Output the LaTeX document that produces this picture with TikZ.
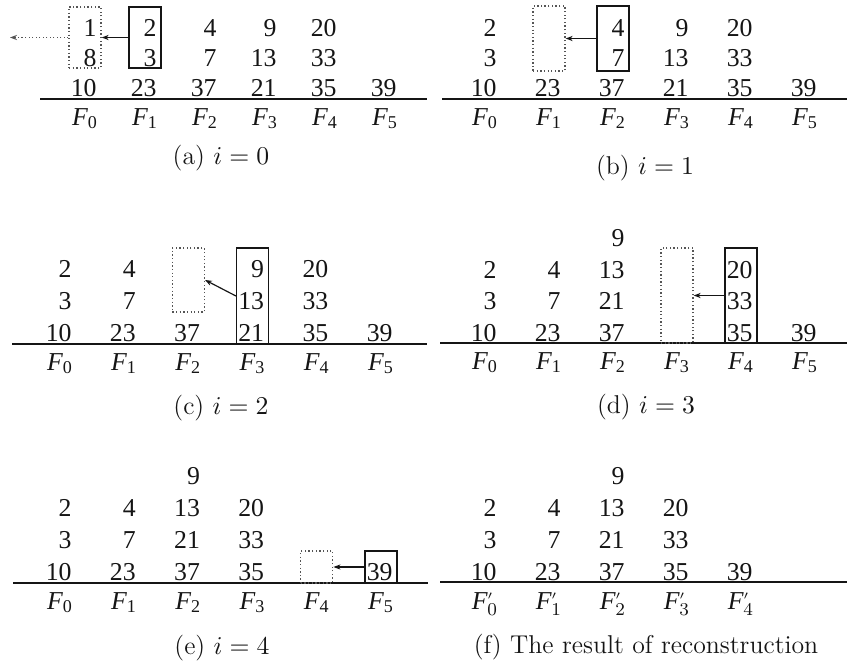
\documentclass[tikz,border=0pt]{standalone}
\usepackage{fontspec}
\usetikzlibrary{arrows.meta}
\newfontfamily\numfont{Liberation Serif}
\definecolor{ink}{HTML}{151515}
\definecolor{dots}{HTML}{555555}
\tikzset{
  num/.style={anchor=base east, inner sep=0pt, font=\numfont\fontsize{11}{13}\selectfont, text=ink},
  flab/.style={anchor=base, inner sep=0pt, font=\numfont\itshape\fontsize{11}{13}\selectfont, text=ink},
  caption/.style={anchor=base, inner sep=0pt, font=\fontsize{11}{13}\selectfont, text=ink},
  rule/.style={draw=ink, line width=0.6pt},
  oldbox/.style={draw=dots, densely dotted, line width=0.55pt, inner sep=0pt, minimum width=0.48cm},
  newbox/.style={draw=ink, line width=0.55pt, inner sep=0pt, minimum width=0.48cm},
  move/.style={draw=ink, line width=0.5pt, -{Stealth[length=3pt,width=2.2pt]}}
}
\newcommand\fsub[1]{F\textsubscript{\upshape #1}}
\newcommand\fprime[1]{F$^{\scriptscriptstyle\prime}_{\mathrm{#1}}$}

\begin{document}
\begin{tikzpicture}[x=0.015cm,y=-0.015cm]
\useasboundingbox (0,0) rectangle (847,664);

\foreach \c/\vals in {0/{10,8,1},1/{23,3,2},2/{37,7,4},3/{21,13,9},4/{35,33,20},5/{39}}
  \foreach \v [count=\r from 0] in \vals
    \node[num] (a\c-\r) at ({97+60*\c},{96-30*\r}) {\v};
\foreach \c in {0,...,5}
  \node[flab] (af\c) at ({85+60*\c},125) {\fsub{\c}};
\draw[rule] (40,99) -- (427,99);
\node[oldbox, minimum height=0.915cm] (a-old) at (85,37.5) {};
\node[newbox, minimum height=0.915cm] (a-new) at (145,37.5) {};
\coordinate (a-out) at (10,37.5);
\draw[move] (a-new.west) -- (a-old.east);
\draw[move, densely dotted, draw=dots] (a-old.west) -- (a-out);
\node[caption] (a-cap) at (221,164) {(a) $i=0$};

\foreach \c/\vals in {0/{10,3,2},1/{23},2/{37,7,4},3/{21,13,9},4/{35,33,20},5/{39}}
  \foreach \v [count=\r from 0] in \vals
    \node[num] (b\c-\r) at ({497+64*\c},{96-30*\r}) {\v};
\foreach \c in {0,...,5}
  \node[flab] (bf\c) at ({485+64*\c},125) {\fsub{\c}};
\draw[rule] (442,99) -- (847,99);
\node[oldbox, minimum height=0.975cm] (b-old) at (549,38.5) {};
\node[newbox, minimum height=0.975cm] (b-new) at (613,38.5) {};
\draw[move] (b-new.west) -- (b-old.east);
\node[caption] (b-cap) at (645,174) {(b) $i=1$};

\foreach \c/\vals in {0/{10,3,2},1/{23,7,4},2/{37},3/{21,13,9},4/{35,33,20},5/{39}}
  \foreach \v [count=\r from 0] in \vals
    \node[num] (c\c-\r) at ({72+64.2*\c},{341.5-32*\r}) {\v};
\foreach \c in {0,...,5}
  \node[flab] (cf\c) at ({60+64.2*\c},370) {\fsub{\c}};
\draw[rule] (12,344) -- (427,344);
\node[oldbox, minimum height=0.96cm] (c-old) at (188.4,280) {};
\node[newbox, minimum height=1.44cm] (c-new) at (252.6,296) {};
\draw[move] (c-new.west) -- (c-old.east);
\node[caption] (c-cap) at (221,414) {(c) $i=2$};

\foreach \c/\vals in {0/{10,3,2},1/{23,7,4},2/{37,21,13,9},4/{35,33,20},5/{39}}
  \foreach \v [count=\r from 0] in \vals
    \node[num] (d\c-\r) at ({497+64*\c},{341-31.5*\r}) {\v};
\foreach \c in {0,...,5}
  \node[flab] (df\c) at ({485+64*\c},369) {\fsub{\c}};
\draw[rule] (440,343) -- (847,343);
\node[oldbox, minimum height=1.425cm] (d-old) at (677,295.5) {};
\node[newbox, minimum height=1.425cm] (d-new) at (741,295.5) {};
\draw[move] (d-new.west) -- (d-old.east);
\node[caption] (d-cap) at (646,413) {(d) $i=3$};

\foreach \c/\vals in {0/{10,3,2},1/{23,7,4},2/{37,21,13,9},3/{35,33,20},5/{39}}
  \foreach \v [count=\r from 0] in \vals
    \node[num] (e\c-\r) at ({72+64.2*\c},{580-31.7*\r}) {\v};
\foreach \c in {0,...,5}
  \node[flab] (ef\c) at ({60+64.2*\c},609) {\fsub{\c}};
\draw[rule] (13,583) -- (428,583);
\node[oldbox, minimum height=0.48cm] (e-old) at (316.8,567) {};
\node[newbox, minimum height=0.48cm] (e-new) at (381,567) {};
\draw[move] (e-new.west) -- (e-old.east);
\node[caption] (e-cap) at (222,654) {(e) $i=4$};

\foreach \c/\vals in {0/{10,3,2},1/{23,7,4},2/{37,21,13,9},3/{35,33,20},4/{39}}
  \foreach \v [count=\r from 0] in \vals
    \node[num] (f\c-\r) at ({497+64*\c},{580-31.7*\r}) {\v};
\foreach \c in {0,...,4}
  \node[flab] (ff\c) at ({485+64*\c},609) {\fprime{\c}};
\draw[rule] (440,582) -- (847,582);
\node[caption] (f-cap) at (646,653) {(f) The result of reconstruction};
\end{tikzpicture}
\end{document}
